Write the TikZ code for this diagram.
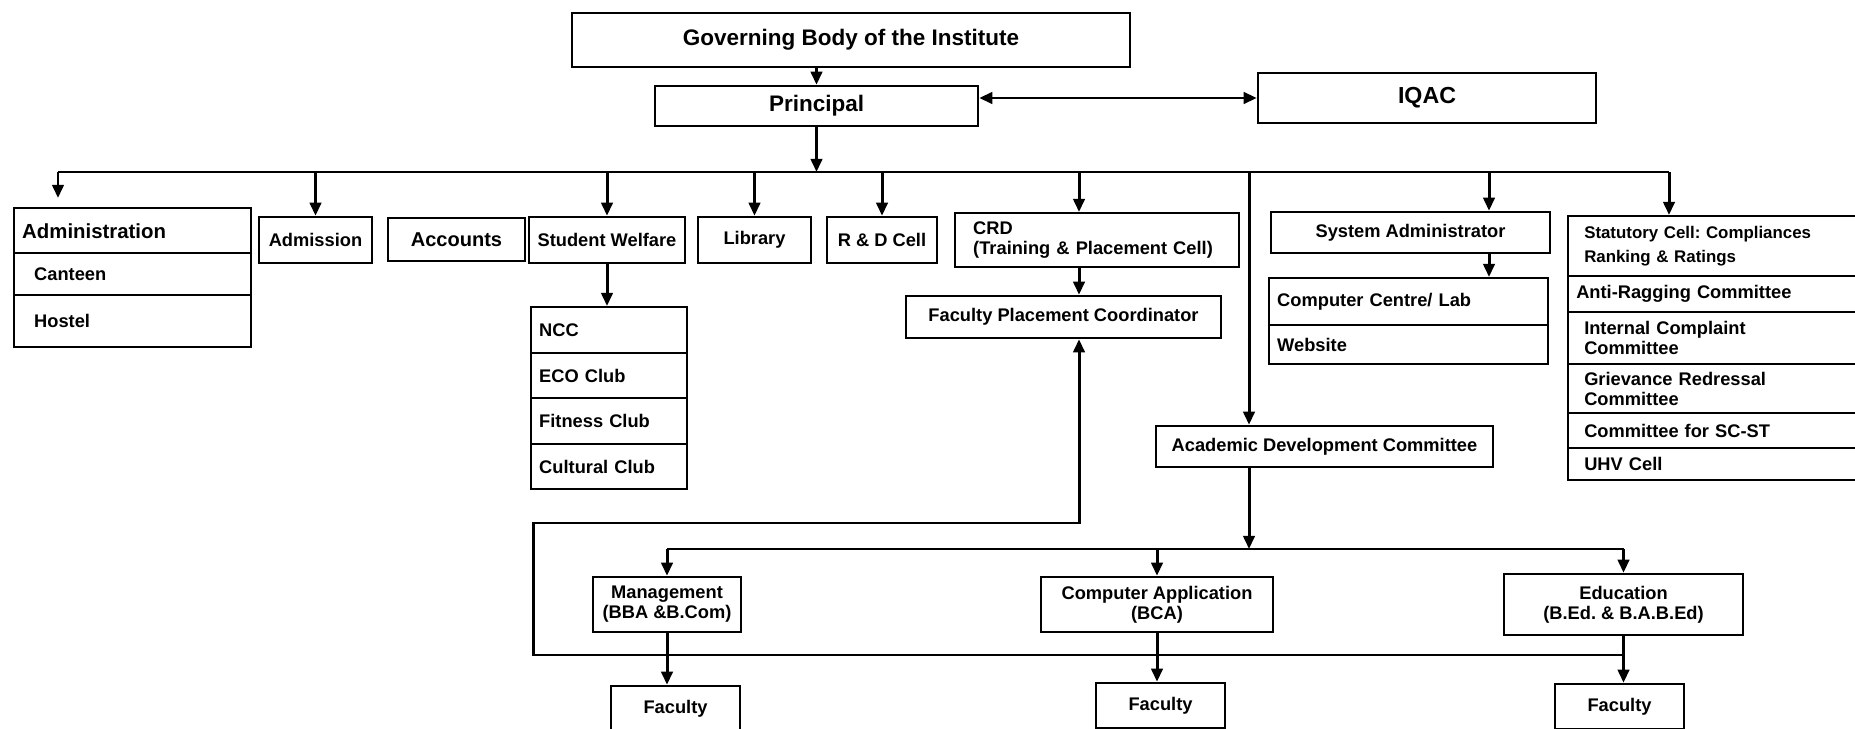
\documentclass[tikz,border=0pt]{standalone}
\usepackage{fontspec}
\setmainfont{Liberation Sans}
\frenchspacing
\usetikzlibrary{arrows.meta}

\tikzset{
    unit/.style={draw, line width=1.4pt, inner sep=0pt, align=center,
        font=\bfseries\fontsize{10.4}{11.4}\selectfont},
    row/.style={unit, anchor=north west, align=left, inner xsep=#1},
    row/.default=0.16cm,
    wire/.style={line width=1.7pt},
    bigtext/.style={font=\bfseries\fontsize{#1}{14}\selectfont},
}

\begin{document}
\begin{tikzpicture}[x=0.02cm, y=-0.02cm, >={Triangle[length=7.5pt, width=6.5pt]}]
        \useasboundingbox (0, 0) rectangle (1855, 729);

        \node[unit, bigtext=12.8, minimum width=11.16cm, minimum height=1.08cm] (gov) at (851, 40) {Governing Body of the Institute};
        \node[unit, bigtext=12.8, minimum width=6.46cm, minimum height=0.8cm] (prin) at (816.5, 106) {Principal};
        \node[unit, bigtext=13.2, minimum width=6.76cm, minimum height=1cm] (iqac) at (1427, 98) {IQAC};

        \node[row, bigtext=11.6, text width=4.42cm, minimum height=0.9cm] (admin) at (13, 207) {Administration};
        \node[row=0.4cm, text width=3.94cm, minimum height=0.84cm] (canteen) at (13, 252) {Canteen};
        \node[row=0.4cm, text width=3.94cm, minimum height=1.04cm] (hostel) at (13, 294) {Hostel};

        \node[unit, minimum width=2.26cm, minimum height=0.92cm] (adm) at (315.5, 240) {Admission};
        \node[unit, bigtext=11.4, minimum width=2.74cm, minimum height=0.86cm] (acc) at (456.5, 239.5) {Accounts};
        \node[unit, minimum width=3.12cm, minimum height=0.92cm] (sw) at (607, 240) {Student Welfare};
        \node[unit, minimum width=2.26cm, minimum height=0.92cm] (lib) at (754.5, 240) {Library};
        \node[unit, minimum width=2.2cm, minimum height=0.92cm] (rd) at (882, 240) {R \& D Cell};

        \node[row, text width=2.8cm, minimum height=0.92cm] (ncc) at (530, 306) {NCC};
        \node[row, text width=2.8cm, minimum height=0.9cm] (eco) at (530, 352) {ECO Club};
        \node[row, text width=2.8cm, minimum height=0.92cm] (fit) at (530, 397) {Fitness Club};
        \node[row, text width=2.8cm, minimum height=0.9cm] (cul) at (530, 443) {Cultural Club};

        \node[row=0.36cm, text width=4.96cm, minimum height=1.08cm] (crd) at (954, 212) {CRD\\(Training \& Placement Cell)};
        \node[unit, minimum width=6.3cm, minimum height=0.84cm] (fpc) at (1063.5, 317) {Faculty Placement Coordinator};

        \node[unit, minimum width=5.58cm, minimum height=0.82cm] (sysad) at (1410.5, 232.5) {System Administrator};
        \node[row, text width=5.26cm, minimum height=0.94cm] (cc) at (1268, 277) {Computer Centre/ Lab};
        \node[row, text width=5.26cm, minimum height=0.78cm] (web) at (1268, 324) {Website};

        \node[row=0.32cm, bigtext=9.6, text width=5.56cm, minimum height=1.2cm] (stat) at (1567, 215) {Statutory Cell: Compliances\\Ranking \& Ratings};
        \node[row, text width=5.88cm, minimum height=0.72cm] (anti) at (1567, 275) {Anti-Ragging Committee};
        \node[row=0.32cm, text width=5.56cm, minimum height=1.04cm] (icc) at (1567, 311) {Internal Complaint\\Committee};
        \node[row=0.32cm, text width=5.56cm, minimum height=0.98cm] (grc) at (1567, 363) {Grievance Redressal\\Committee};
        \node[row=0.32cm, text width=5.56cm, minimum height=0.7cm] (scst) at (1567, 412) {Committee for SC-ST};
        \node[row=0.32cm, text width=5.56cm, minimum height=0.64cm] (uhv) at (1567, 447) {UHV Cell};

        \node[unit, minimum width=6.74cm, minimum height=0.82cm] (adc) at (1324.5, 446.5) {Academic Development Committee};

        \node[unit, minimum width=2.96cm, minimum height=1.1cm] (mgmt) at (667, 604.5) {Management\\(BBA \&B.Com)};
        \node[unit, minimum width=4.64cm, minimum height=1.1cm] (ca) at (1157, 604.5) {Computer Application\\(BCA)};
        \node[unit, minimum width=4.78cm, minimum height=1.22cm] (edu) at (1623.5, 604.5) {Education\\(B.Ed. \& B.A.B.Ed)};

        \node[unit, minimum width=2.58cm, minimum height=0.9cm] (fm) at (675.5, 708.5) {Faculty};
        \node[unit, minimum width=2.58cm, minimum height=0.9cm] (fc) at (1160.5, 705.5) {Faculty};
        \node[unit, minimum width=2.58cm, minimum height=0.9cm] (fe) at (1619.5, 706.5) {Faculty};

        \coordinate (busL) at (58, 172);
        \coordinate (busR) at (1669, 172);
        \coordinate (crdx) at (1079, 172);
        \coordinate (adcx) at (1249, 172);
        \coordinate (sax) at (1489, 172);
        \coordinate (lbus) at (0, 549);
        \coordinate (loopA) at (533, 655);
        \coordinate (loopB) at (533, 523);

        \draw[wire, ->] (prin.north |- gov.south) -- (prin.north);
        \draw[wire, <->] (prin.east |- iqac.west) -- (iqac.west);
        \draw[wire, ->] (prin.south) -- (prin.south |- busL);
        \draw[wire] (busL) -- (busR);
        \draw[wire, ->, shorten >=0.18cm] (busL) -- (busL |- admin.north);
        \foreach \n in {adm, sw, lib, rd}
            \draw[wire, ->] (\n.north |- busL) -- (\n.north);
        \draw[wire, ->] (crdx) -- (crdx |- crd.north);
        \draw[wire, ->] (adcx) -- (adcx |- adc.north);
        \draw[wire, ->] (sax) -- (sax |- sysad.north);
        \draw[wire, ->] (busR) -- (busR |- stat.north);

        \draw[wire, ->] (sw.south) -- (sw.south |- ncc.north);
        \draw[wire, ->] (crdx |- crd.south) -- (crdx |- fpc.north);
        \draw[wire, ->] (sax |- sysad.south) -- (sax |- cc.north);

        \draw[wire, ->] (adcx |- adc.south) -- (adcx |- lbus);
        \draw[wire] (mgmt.north |- lbus) -- (edu.north |- lbus);
        \foreach \n in {mgmt, ca, edu}
            \draw[wire, ->] (\n.north |- lbus) -- (\n.north);
        \draw[wire, ->] (mgmt.south) -- (mgmt.south |- fm.north);
        \draw[wire, ->] (ca.south) -- (ca.south |- fc.north);
        \draw[wire, ->] (edu.south) -- (edu.south |- fe.north);
        \draw[wire, ->] (edu.south |- loopA) -- (loopA) -- (loopB) -- (crdx |- loopB) -- (crdx |- fpc.south);
    \end{tikzpicture}
\end{document}
